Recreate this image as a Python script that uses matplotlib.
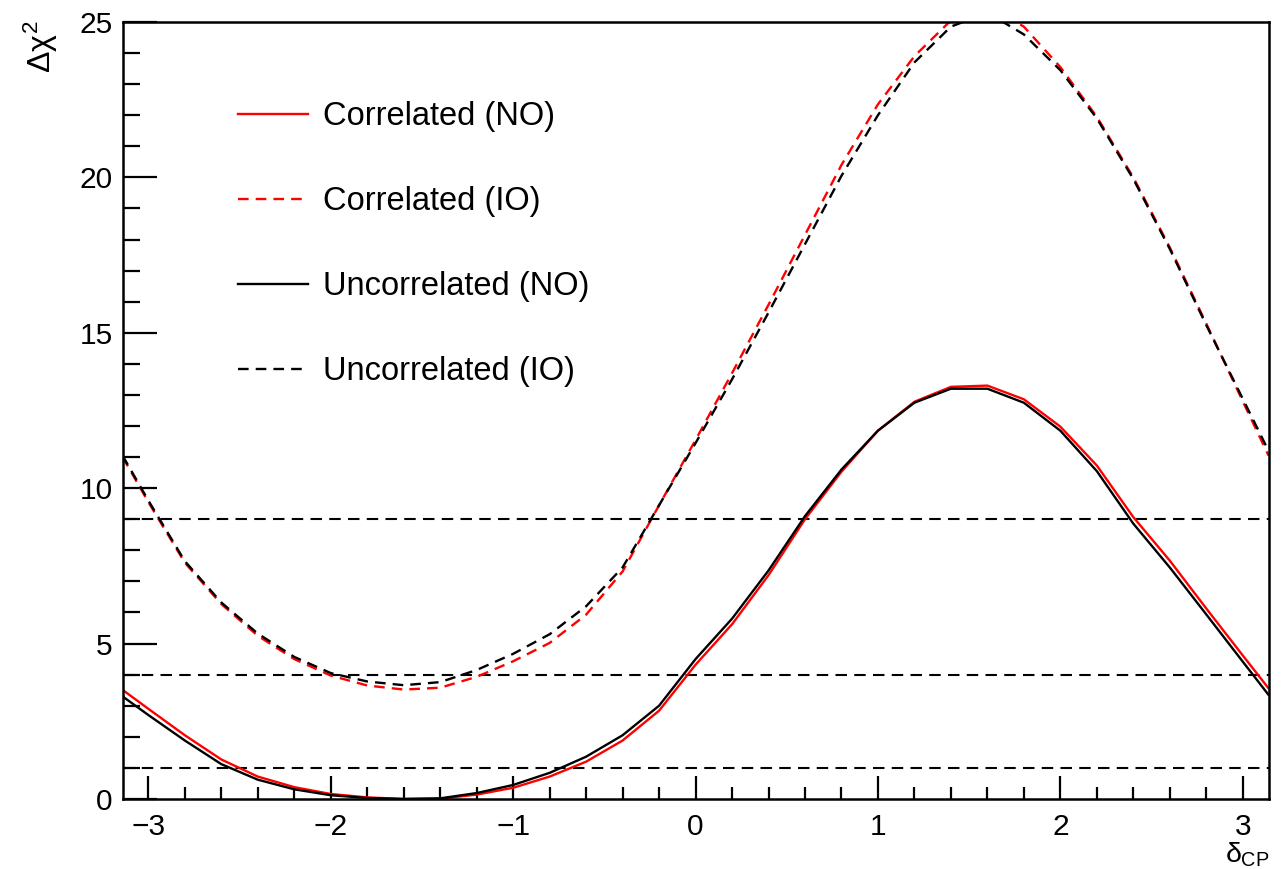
import numpy as np
import matplotlib
matplotlib.use("Agg")
import matplotlib.pyplot as plt
from matplotlib.ticker import MultipleLocator

plt.rcParams['font.family'] = ['Liberation Sans', 'DejaVu Sans']
plt.rcParams['mathtext.fontset'] = 'custom'
plt.rcParams['mathtext.rm'] = 'Liberation Sans'
plt.rcParams['mathtext.it'] = 'Liberation Sans'
plt.rcParams['mathtext.bf'] = 'Liberation Sans:bold'

# delta_CP scan points
delta_cp = [-np.pi, -3.0, -2.8, -2.6, -2.4, -2.2, -2.0, -1.8, -1.6, -1.4, -1.2,
            -1.0, -0.8, -0.6, -0.4, -0.2, 0.0, 0.2, 0.4, 0.6, 0.8, 1.0,
            1.2, 1.4, 1.6, 1.8, 2.0, 2.2, 2.4, 2.6, 2.8, 3.0, np.pi]

# Delta chi^2 for each hypothesis
corr_no = [3.51, 2.90, 2.05, 1.27, 0.72, 0.38, 0.16, 0.05, 0.00, 0.01, 0.14,
           0.36, 0.72, 1.20, 1.88, 2.84, 4.32, 5.62, 7.20, 9.00, 10.53, 11.85,
           12.78, 13.26, 13.30, 12.86, 11.98, 10.73, 9.07, 7.67, 6.13, 4.62, 3.56]
uncorr_no = [3.30, 2.70, 1.88, 1.12, 0.62, 0.31, 0.12, 0.03, 0.00, 0.02, 0.19,
             0.45, 0.84, 1.36, 2.05, 3.00, 4.50, 5.80, 7.35, 9.10, 10.60, 11.85,
             12.75, 13.20, 13.20, 12.75, 11.85, 10.55, 8.86, 7.45, 5.94, 4.42, 3.35]
corr_io = [11.00, 9.55, 7.60, 6.27, 5.25, 4.50, 3.97, 3.65, 3.52, 3.58, 3.93,
           4.43, 5.02, 5.93, 7.32, 9.45, 11.55, 13.70, 15.90, 18.15, 20.40, 22.35,
           23.90, 25.05, 25.55, 24.85, 23.55, 21.95, 20.00, 17.75, 15.30, 12.80, 11.05]
uncorr_io = [11.05, 9.60, 7.65, 6.32, 5.32, 4.57, 4.05, 3.78, 3.66, 3.76, 4.15,
             4.67, 5.30, 6.20, 7.45, 9.45, 11.45, 13.50, 15.65, 17.85, 20.05, 22.00,
             23.70, 24.85, 25.30, 24.60, 23.45, 21.90, 19.95, 17.70, 15.25, 12.88, 11.20]

# 1, 2, 3 sigma reference levels
sigma_levels = [1, 4, 9]

fig = plt.figure(figsize=(12.82, 8.69), dpi=100)
ax = fig.add_axes([0.0956, 0.0806, 0.8939, 0.8941])

dash_h = (0, (5.5, 3.5))
for lvl in sigma_levels:
    ax.plot([-np.pi, np.pi], [lvl, lvl], color='black', lw=1.5, linestyle=dash_h)

dash_c = (0, (4.5, 3))
ax.plot(delta_cp, corr_no, color='#ff0000', lw=1.7, label='Correlated (NO)')
ax.plot(delta_cp, corr_io, color='#ff0000', lw=1.7, linestyle=dash_c, label='Correlated (IO)')
ax.plot(delta_cp, uncorr_no, color='black', lw=1.7, label='Uncorrelated (NO)')
ax.plot(delta_cp, uncorr_io, color='black', lw=1.7, linestyle=dash_c, label='Uncorrelated (IO)')

ax.set_xlim(-np.pi, np.pi)
ax.set_ylim(0, 25)

ax.xaxis.set_major_locator(MultipleLocator(1))
ax.xaxis.set_minor_locator(MultipleLocator(0.2))
ax.yaxis.set_major_locator(MultipleLocator(5))
ax.yaxis.set_minor_locator(MultipleLocator(1))

ax.tick_params(axis='both', which='both', direction='in', top=False, right=False,
               width=1.6, labelsize=21.5)
ax.tick_params(axis='x', which='major', length=16.5, pad=10)
ax.tick_params(axis='x', which='minor', length=8.5)
ax.tick_params(axis='y', which='major', length=24.5, pad=7)
ax.tick_params(axis='y', which='minor', length=12.2)

for sp in ax.spines.values():
    sp.set_linewidth(1.8)

fig.text(0.032, 0.977, r'$\Delta\chi^{2}$', rotation=90, ha='center', va='top', fontsize=23)
fig.text(0.990, 0.0005, r'$\delta_{\mathrm{CP}}$', ha='right', va='bottom', fontsize=20.5)

ax.legend(loc='center left', bbox_to_anchor=(0.1008, 0.714), frameon=False,
          fontsize=23.5, handlelength=2.14, handletextpad=0.46, labelspacing=1.66,
          borderpad=0, borderaxespad=0)

fig.savefig('out.png', dpi=100)
